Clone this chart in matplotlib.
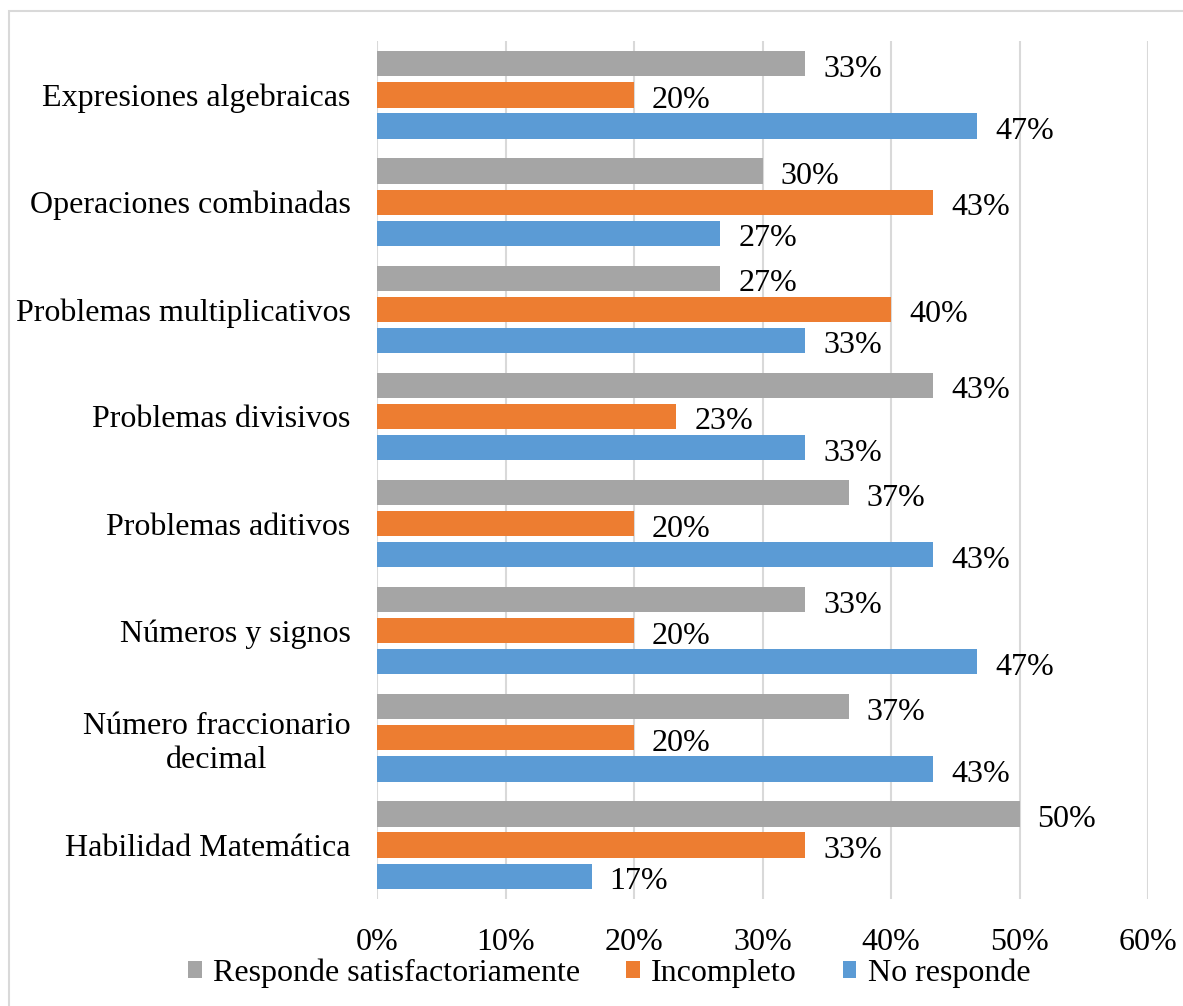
import matplotlib
matplotlib.use("Agg")
import matplotlib.pyplot as plt
from matplotlib.patches import Rectangle
from matplotlib.ticker import FuncFormatter
import numpy as np

plt.rcParams['font.family'] = ['Liberation Serif', 'DejaVu Serif']

categories = [
    "Expresiones algebraicas",
    "Operaciones combinadas",
    "Problemas multiplicativos",
    "Problemas divisivos",
    "Problemas aditivos",
    "Números y signos",
    "Número fraccionario\ndecimal",
    "Habilidad Matemática",
]
series_names = ["Responde satisfactoriamente", "Incompleto", "No responde"]
responde = [33.3, 30.0, 26.7, 43.3, 36.7, 33.3, 36.7, 50.0]
incompleto = [20.0, 43.3, 40.0, 23.3, 20.0, 20.0, 20.0, 33.3]
no_responde = [46.7, 26.7, 33.3, 33.3, 43.3, 46.7, 43.3, 16.7]
x_ticks = [0, 10, 20, 30, 40, 50, 60]

colors = ["#a5a5a5", "#ed7d31", "#5b9bd5"]
series = [responde, incompleto, no_responde]

fig = plt.figure(figsize=(11.83, 10.06), dpi=100)
ax = fig.add_axes([377 / 1183, 1 - 898.6 / 1006, (1148 - 377) / 1183, (898.6 - 41.4) / 1006])

# outer chart frame (top and left edges visible)
fig.patches.append(Rectangle((9 / 1183, -0.1), 1.2, 1 - 10.5 / 1006 + 0.1,
                             transform=fig.transFigure, fill=False,
                             edgecolor="#d9d9d9", linewidth=1.5))

n = len(categories)
centers = np.arange(n)
step = 0.29
height = 0.235
offsets = [-step, 0, step]

fs = 23
for vals, col, off, name in zip(series, colors, offsets, series_names):
    ys = centers + off
    ax.barh(ys, vals, height=height, color=col, label=name, zorder=3)
    for y, v in zip(ys, vals):
        ax.annotate(f"{v:.0f}%", xy=(v, y), xytext=(13, -4),
                    textcoords="offset points", va="center", ha="left",
                    fontsize=fs, color="#000000", zorder=4)

ax.set_xlim(0, 60)
ax.set_ylim(n - 0.5, -0.5)
ax.set_xticks(x_ticks)
ax.xaxis.set_major_formatter(FuncFormatter(lambda v, p: f"{v:.0f}%"))
ax.set_yticks(centers)
ax.set_yticklabels(categories, multialignment="center")
ax.tick_params(axis="both", length=0, labelsize=fs, colors="#000000")
ax.tick_params(axis="x", pad=21)
ax.tick_params(axis="y", pad=19)
ax.grid(axis="x", color="#d9d9d9", linewidth=1.5, zorder=0)
for s in ax.spines.values():
    s.set_visible(False)

handles, labels = ax.get_legend_handles_labels()
fig.legend(handles, labels, loc="center", bbox_to_anchor=(0.515, 1 - 973 / 1006),
           ncol=3, frameon=False, fontsize=fs, handlelength=0.42, handleheight=0.42,
           handletextpad=0.35, columnspacing=1.45, borderaxespad=0, borderpad=0)

fig.savefig("out.png", dpi=100)
